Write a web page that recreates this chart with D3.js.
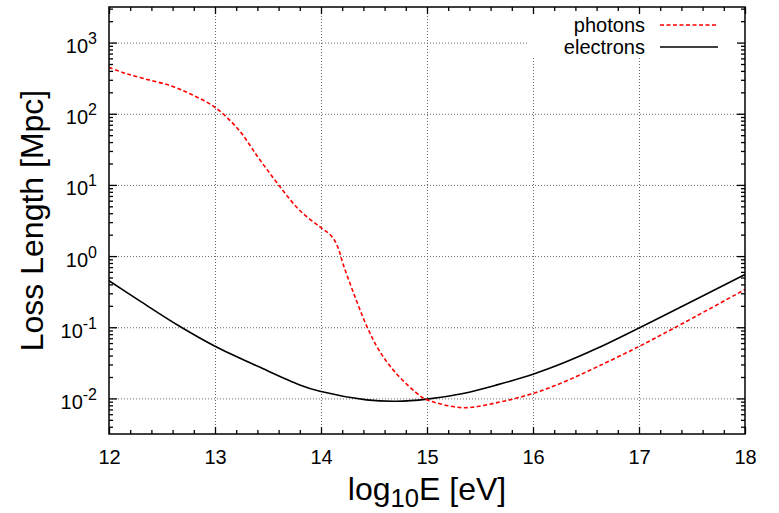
<!DOCTYPE html>
<html lang="en">
<head>
    <meta charset="UTF-8">
    <title>Loss Length</title>
    <script src="https://d3js.org/d3.v7.min.js"></script>
    <style>
        body {
            margin: 0;
            background: white;
        }
        svg {
            display: block;
            font-family: "Liberation Sans", Arial, sans-serif;
        }
        .grid line {
            stroke: #666;
            stroke-width: 1;
            stroke-dasharray: 1,2;
        }
        .grid .domain {
            display: none;
        }
        .axis path, .axis line {
            stroke: black;
            stroke-width: 1.3;
        }
        .axis text {
            font-size: 20px;
            fill: black;
        }
    </style>
</head>
<body>
    <script>
        // log10 of energy in eV
        const photonE = [12.0, 12.15, 12.34, 12.59, 12.78, 13.0, 13.22, 13.41, 13.6, 13.8, 13.99, 14.1, 14.16, 14.21, 14.3, 14.43, 14.55, 14.71, 14.94, 15.0, 15.34, 15.69, 16.0, 16.29, 16.6, 17.0, 17.32, 18.0];
        // log10 of loss length in Mpc
        const photonLog = [2.65, 2.57, 2.49, 2.39, 2.27, 2.09, 1.78, 1.38, 1.00, 0.64, 0.41, 0.28, 0.12, -0.12, -0.49, -0.98, -1.33, -1.65, -1.97, -2.02, -2.13, -2.05, -1.93, -1.77, -1.56, -1.27, -1.02, -0.47];

        const electronE = [12.0, 12.29, 12.67, 13.0, 13.42, 13.8, 13.99, 14.43, 14.71, 15.0, 15.34, 15.66, 16.0, 16.29, 16.6, 17.0, 17.39, 18.0];
        const electronLog = [-0.347, -0.63, -0.99, -1.267, -1.56, -1.81, -1.90, -2.02, -2.04, -2.01, -1.93, -1.81, -1.66, -1.50, -1.30, -1.01, -0.72, -0.26];

        const xTicks = [12, 13, 14, 15, 16, 17, 18];
        const yExps = [-2, -1, 0, 1, 2, 3];

        const W = 779, H = 513;
        const pLeft = 109, pRight = 745, pTop = 7, pBottom = 434;

        const svg = d3.select("body").append("svg")
            .attr("width", W)
            .attr("height", H);

        svg.append("rect").attr("width", W).attr("height", H).attr("fill", "white");

        const x = d3.scaleLinear().domain([12, 18]).range([pLeft, pRight]);
        const y = d3.scaleLog().domain([Math.pow(10, -2.5), Math.pow(10, 3.5)]).range([pBottom, pTop]);

        const yMajor = yExps.map(e => Math.pow(10, e));
        let yMinor = [];
        for (let e = -3; e <= 3; e++) {
            for (let k = 2; k <= 9; k++) {
                let v = k * Math.pow(10, e);
                if (v > y.domain()[0] && v < y.domain()[1]) yMinor.push(v);
            }
        }
        let xMinor = [];
        for (let t = 12; t < 18; t++) {
            for (let k = 1; k <= 4; k++) xMinor.push(t + k * 0.2);
        }

        // grid
        svg.append("g").attr("class", "grid")
            .attr("transform", `translate(0,${pBottom})`)
            .call(d3.axisBottom(x).tickValues(xTicks.slice(1, -1)).tickSize(-(pBottom - pTop)).tickFormat(""));
        svg.append("g").attr("class", "grid")
            .attr("transform", `translate(${pLeft},0)`)
            .call(d3.axisLeft(y).tickValues(yMajor).tickSize(-(pRight - pLeft)).tickFormat(""));

        // legend background hides grid
        svg.append("rect")
            .attr("x", 528).attr("y", pTop)
            .attr("width", pRight - 528).attr("height", 57 - pTop)
            .attr("fill", "white");

        // curves
        const line = d3.line()
            .x(d => x(d[0]))
            .y(d => y(Math.pow(10, d[1])))
            .curve(d3.curveCatmullRom.alpha(0.5));

        svg.append("path")
            .datum(electronE.map((e, i) => [e, electronLog[i]]))
            .attr("d", line)
            .attr("fill", "none")
            .attr("stroke", "black")
            .attr("stroke-width", 1.6);

        svg.append("path")
            .datum(photonE.map((e, i) => [e, photonLog[i]]))
            .attr("d", line)
            .attr("fill", "none")
            .attr("stroke", "#ff0000")
            .attr("stroke-width", 1.6)
            .attr("stroke-dasharray", "4,2.5");

        // axes (ticks pointing inward on all sides)
        svg.append("g").attr("class", "axis")
            .attr("transform", `translate(0,${pBottom})`)
            .call(d3.axisBottom(x).tickValues(xTicks).tickSize(-7).tickPadding(16).tickFormat(d3.format("d")))
            .call(g => g.select(".domain").remove());
        svg.append("g").attr("class", "axis")
            .attr("transform", `translate(0,${pBottom})`)
            .call(d3.axisBottom(x).tickValues(xMinor).tickSize(-4).tickFormat(""))
            .call(g => g.select(".domain").remove());
        svg.append("g").attr("class", "axis")
            .attr("transform", `translate(0,${pTop})`)
            .call(d3.axisTop(x).tickValues(xTicks).tickSize(-7).tickFormat(""))
            .call(g => g.select(".domain").remove());
        svg.append("g").attr("class", "axis")
            .attr("transform", `translate(0,${pTop})`)
            .call(d3.axisTop(x).tickValues(xMinor).tickSize(-4).tickFormat(""))
            .call(g => g.select(".domain").remove());

        const yAxis = svg.append("g").attr("class", "axis")
            .attr("transform", `translate(${pLeft},0)`)
            .call(d3.axisLeft(y).tickValues(yMajor).tickSize(-8).tickPadding(12))
            .call(g => g.select(".domain").remove());
        yAxis.selectAll(".tick text")
            .text(null)
            .attr("dy", "0.5em")
            .each(function(d) {
                let t = d3.select(this);
                t.append("tspan").text("10");
                t.append("tspan").text(Math.round(Math.log10(d)))
                    .attr("font-size", "16px")
                    .attr("dy", -9);
            });
        svg.append("g").attr("class", "axis")
            .attr("transform", `translate(${pLeft},0)`)
            .call(d3.axisLeft(y).tickValues(yMinor).tickSize(-4).tickFormat(""))
            .call(g => g.select(".domain").remove());
        svg.append("g").attr("class", "axis")
            .attr("transform", `translate(${pRight},0)`)
            .call(d3.axisRight(y).tickValues(yMajor).tickSize(-8).tickFormat(""))
            .call(g => g.select(".domain").remove());
        svg.append("g").attr("class", "axis")
            .attr("transform", `translate(${pRight},0)`)
            .call(d3.axisRight(y).tickValues(yMinor).tickSize(-4).tickFormat(""))
            .call(g => g.select(".domain").remove());

        // frame
        svg.append("rect")
            .attr("x", pLeft).attr("y", pTop)
            .attr("width", pRight - pLeft).attr("height", pBottom - pTop)
            .attr("fill", "none")
            .attr("stroke", "black")
            .attr("stroke-width", 1.5);

        // axis titles
        const xt = svg.append("text")
            .attr("x", (pLeft + pRight) / 2)
            .attr("y", 500)
            .attr("text-anchor", "middle")
            .attr("font-size", "32px");
        xt.append("tspan").text("log");
        xt.append("tspan").text("10").attr("font-size", "25.6px").attr("dy", 7);
        xt.append("tspan").text("E [eV]").attr("dy", -7);

        svg.append("text")
            .attr("transform", `translate(43,${(pTop + pBottom) / 2}) rotate(-90)`)
            .attr("text-anchor", "middle")
            .attr("font-size", "32px")
            .text("Loss Length [Mpc]");

        // legend
        const legend = [
            { name: "photons", color: "#ff0000", dash: "4,2.5", y: 25 },
            { name: "electrons", color: "black", dash: null, y: 47 }
        ];
        legend.forEach(l => {
            svg.append("text")
                .attr("x", 645).attr("y", l.y)
                .attr("dy", "0.35em")
                .attr("text-anchor", "end")
                .attr("font-size", "20px")
                .text(l.name);
            svg.append("line")
                .attr("x1", 660).attr("x2", 718)
                .attr("y1", l.y).attr("y2", l.y)
                .attr("stroke", l.color)
                .attr("stroke-width", 1.6)
                .attr("stroke-dasharray", l.dash);
        });
    </script>
</body>
</html>
